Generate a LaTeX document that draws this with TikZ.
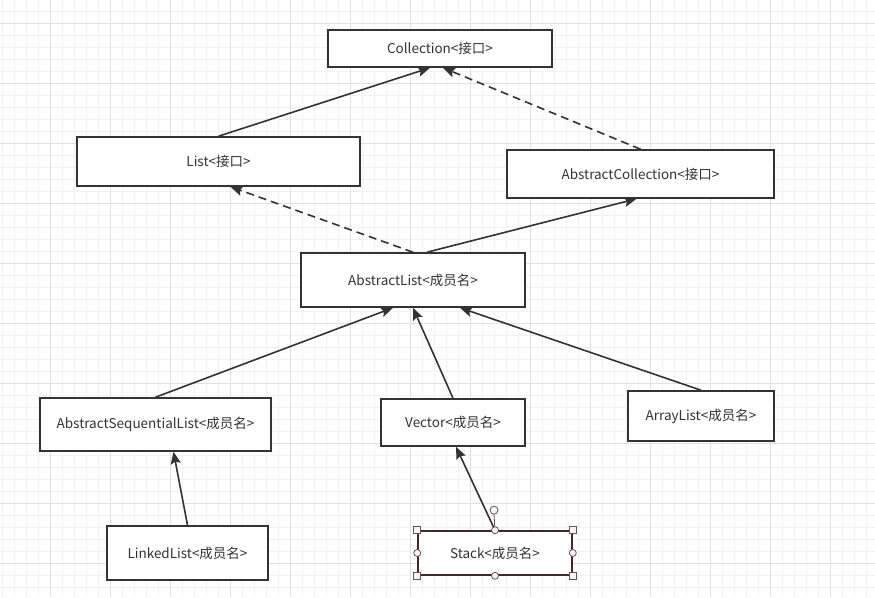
\documentclass[tikz,border=0pt]{standalone}
\usepackage{fontspec}
\setmainfont{Noto Sans CJK SC}
\usetikzlibrary{arrows.meta}
\definecolor{linegray}{RGB}{51,51,51}
\definecolor{gridminor}{RGB}{242,242,242}
\definecolor{gridmajor}{RGB}{224,224,224}
\definecolor{selred}{RGB}{72,36,36}
\definecolor{handlefill}{RGB}{252,244,244}
\tikzstyle{box} = [rectangle, draw=linegray, line width=1.6pt, fill=white, text=linegray, font=\fontsize{13.5}{16}\selectfont, text centered]
\tikzstyle{arrow} = [line width=1.6pt, draw=linegray, -{Stealth[length=12pt,width=10pt,inset=2pt]}]
\tikzstyle{dasharrow} = [arrow, dash pattern=on 8pt off 5pt]
\tikzstyle{handle} = [draw=selred!80, fill=handlefill, line width=0.8pt]

\begin{document}
\begin{tikzpicture}[x=1pt, y=-1pt]

\useasboundingbox (0,0) rectangle (875,597);
\fill[white] (0,0) rectangle (875,597);
% background grid
\foreach \x in {2,14,...,874} \draw[gridminor, line width=0.8pt] (\x,0) -- (\x,597);
\foreach \y in {11,23,...,597} \draw[gridminor, line width=0.8pt] (0,\y) -- (875,\y);
\foreach \x in {50,110,...,830} \draw[gridmajor, line width=0.8pt] (\x,0) -- (\x,597);
\foreach \y in {23,83,...,563} \draw[gridmajor, line width=0.8pt] (0,\y) -- (875,\y);

\node (coll) [box, minimum width=224, minimum height=37] at (440,48.5) {Collection<接口>};
\node (list) [box, minimum width=283, minimum height=49] at (218.5,161.5) {List<接口>};
\node (abscoll) [box, minimum width=267, minimum height=48] at (640.5,174) {AbstractCollection<接口>};
\node (alist) [box, minimum width=224, minimum height=54] at (413,280) {AbstractList<成员名>};
\node (seqlist) [box, minimum width=231, minimum height=53] at (155.5,424.5) {AbstractSequentialList<成员名>};
\node (vector) [box, minimum width=144, minimum height=47] at (453,422.5) {Vector<成员名>};
\node (arrlist) [box, minimum width=146, minimum height=50] at (701,416) {ArrayList<成员名>};
\node (linked) [box, minimum width=161, minimum height=54] at (187.5,553) {LinkedList<成员名>};
\node (stack) [box, draw=selred, minimum width=154, minimum height=44] at (495,553) {Stack<成员名>};

\draw [arrow] (list.north) -- ([xshift=-10]coll.south);
\draw [dasharrow] (abscoll.north) -- ([xshift=3]coll.south);
\draw [dasharrow] (alist.north) -- ([xshift=12]list.south);
\draw [arrow] ([xshift=14]alist.north) -- ([xshift=-4]abscoll.south);
\draw [arrow] (seqlist.north) -- ([xshift=-20]alist.south);
\draw [arrow] (vector.north) -- (alist.south);
\draw [arrow] (arrlist.north) -- ([xshift=47]alist.south);
\draw [arrow] (linked.north) -- ([xshift=18]seqlist.south);
\draw [arrow] (stack.north) -- ([xshift=3]vector.south);

% selection handles round the Stack box
\coordinate (rot) at ([shift={(-1,-20)}]stack.north);
\draw[selred!80, line width=0.8pt] (stack.north) -- ([shift={(0,4)}]rot);
\draw[handle] (rot) circle (4);
\foreach \a in {north west, north east, south west, south east}
  \draw[handle] ([shift={(-3.5,-3.5)}]stack.\a) rectangle ([shift={(3.5,3.5)}]stack.\a);
\foreach \a in {north, south, west, east}
  \draw[handle] (stack.\a) circle (3.5);

\end{tikzpicture}
\end{document}
